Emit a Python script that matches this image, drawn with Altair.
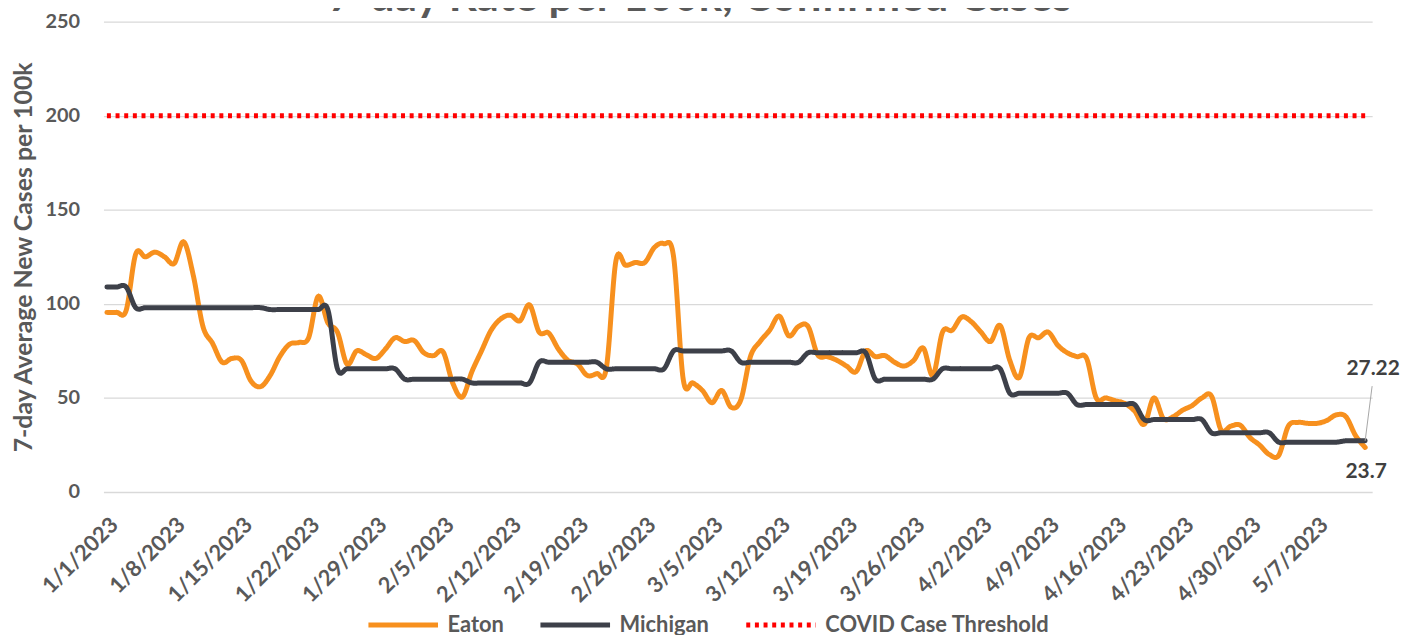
import altair as alt
import pandas as pd

# ---------------- data ----------------
DATES = [d.strftime("%-m/%-d/%Y") for d in pd.date_range("2023-01-01", "2023-05-12", freq="D")]

EATON = [
    95.5, 95.5, 96.5, 126.5, 125, 127.5, 125, 121.5, 133, 115,
    88, 79, 69, 71, 70, 59, 56, 62, 72, 78.5,
    79.5, 82, 104, 90, 85, 68, 75, 73, 71, 76,
    82, 80, 80.5, 74, 72.5, 74.5, 58, 50.5, 64, 75,
    86, 92, 94, 91, 99.5, 85, 84.5, 76, 70, 68,
    62, 63, 66, 123, 120.5, 122, 122, 130, 132, 125,
    60, 58, 54, 47.5, 54, 45, 49, 72, 80, 86,
    93.5, 83, 88, 88, 73, 72, 70, 67, 64, 75,
    72, 72.5, 69, 67, 70, 76.5, 62, 85, 86, 93,
    90.5, 85, 80, 88.5, 70, 61, 82, 82, 85, 78,
    74, 72, 71, 50, 50, 48.5, 47, 43, 36, 50,
    39, 40, 43.5, 46, 50, 51, 33, 35, 35.5, 29,
    25, 20, 19.5, 35, 37, 36.5, 36.5, 38, 41, 40,
    30, 23.7,
]

MICHIGAN = [
    109, 109, 109, 98, 98, 98, 98, 98, 98, 98,
    98, 98, 98, 98, 98, 98, 98, 97, 97, 97,
    97, 97, 97, 97, 65.5, 65.5, 65.5, 65.5, 65.5, 65.5,
    65.5, 60, 60, 60, 60, 60, 60, 60, 58, 58,
    58, 58, 58, 58, 58, 69, 69, 69, 69, 69,
    69, 69, 65.5, 65.5, 65.5, 65.5, 65.5, 65.5, 65.5, 75,
    75, 75, 75, 75, 75, 75, 69, 69, 69, 69,
    69, 69, 69, 74, 74, 74, 74, 74, 74, 74,
    60, 60, 60, 60, 60, 60, 60, 65.5, 65.5, 65.5,
    65.5, 65.5, 65.5, 65.5, 52.5, 52.5, 52.5, 52.5, 52.5, 52.5,
    52.5, 46.5, 46.5, 46.5, 46.5, 46.5, 46.5, 46.5, 38.5, 38.5,
    38.5, 38.5, 38.5, 38.5, 38.5, 31.5, 31.5, 31.5, 31.5, 31.5,
    31.5, 31.5, 26.5, 26.5, 26.5, 26.5, 26.5, 26.5, 26.5, 27.22,
    27.22, 27.22,
]

THRESHOLD = 200

TICK_LABELS = [
    "1/1/2023", "1/8/2023", "1/15/2023", "1/22/2023", "1/29/2023", "2/5/2023",
    "2/12/2023", "2/19/2023", "2/26/2023", "3/5/2023", "3/12/2023", "3/19/2023",
    "3/26/2023", "4/2/2023", "4/9/2023", "4/16/2023", "4/23/2023", "4/30/2023",
    "5/7/2023",
]

SERIES = ["Eaton", "Michigan", "COVID Case Threshold"]
COLORS = ["#F7901E", "#3D4049", "#FF0000"]
TITLE = "7-day Rate per 100k, Confirmed Cases"

# ---------------- tables ----------------
rows = []
for i, d in enumerate(DATES):
    rows.append({"day": i, "date": d, "series": "Eaton", "value": EATON[i]})
    rows.append({"day": i, "date": d, "series": "Michigan", "value": MICHIGAN[i]})
    rows.append({"day": i, "date": d, "series": "COVID Case Threshold", "value": THRESHOLD})
df = pd.DataFrame(rows)

last = len(DATES) - 1
labels_df = pd.DataFrame([
    {"day": last, "value": MICHIGAN[-1], "label": str(MICHIGAN[-1]), "series": "Michigan"},
    {"day": last, "value": EATON[-1], "label": str(EATON[-1]), "series": "Eaton"},
])

FONT = "Lato"
GREY = "#595959"

label_expr = "[" + ",".join("'" + t + "'" for t in TICK_LABELS) + "][round(datum.value / 7)]"

x_enc = alt.X(
    "day:Q",
    scale=alt.Scale(domain=[-0.36, 131.73], nice=False, zero=False),
    axis=alt.Axis(
        values=[7 * k for k in range(len(TICK_LABELS))],
        labelExpr=label_expr,
        labelAngle=-45,
        labelAlign="right",
        labelBaseline="top",
        labelPadding=22,
        labelFont=FONT,
        labelFontSize=22,
        labelFontWeight="bold",
        labelColor=GREY,
        labelOverlap=False,
        domain=False,
        ticks=False,
        grid=False,
        title=None,
    ),
)

y_enc = alt.Y(
    "value:Q",
    scale=alt.Scale(domain=[0, 250], nice=False),
    axis=alt.Axis(
        values=[0, 50, 100, 150, 200, 250],
        labelFont=FONT,
        labelFontSize=20,
        labelFontWeight="bold",
        labelColor=GREY,
        labelPadding=24,
        domain=False,
        ticks=False,
        grid=True,
        gridColor="#D9D9D9",
        gridWidth=1.3,
        title="7-day Average New Cases per 100k",
        titleFont=FONT,
        titleFontSize=25,
        titleFontWeight="bold",
        titleColor=GREY,
        titlePadding=9,
    ),
)

color_enc = alt.Color(
    "series:N",
    scale=alt.Scale(domain=SERIES, range=COLORS),
    legend=alt.Legend(
        title=None,
        orient="none",
        legendX=264,
        legendY=569,
        direction="horizontal",
        symbolType="stroke",
        symbolSize=4900,
        labelFont=FONT,
        labelFontSize=22,
        labelFontWeight="bold",
        labelColor=GREY,
        labelOffset=7,
        labelLimit=400,
        columnPadding=26,
    ),
)
dash_enc = alt.StrokeDash(
    "series:N",
    scale=alt.Scale(domain=SERIES, range=[[1, 0], [1, 0], [4, 4.7]]),
)
width_enc = alt.StrokeWidth(
    "series:N",
    scale=alt.Scale(domain=SERIES, range=[5, 5, 4]),
)

base = alt.Chart(df)

threshold = base.transform_filter(alt.datum.series == "COVID Case Threshold").mark_line(
    strokeCap="butt"
).encode(x=x_enc, y=y_enc, color=color_enc, strokeDash=dash_enc, strokeWidth=width_enc)

eaton = base.transform_filter(alt.datum.series == "Eaton").mark_line(
    interpolate="cardinal", strokeJoin="round", strokeCap="round"
).encode(x=x_enc, y=y_enc, color=color_enc, strokeDash=dash_enc, strokeWidth=width_enc)

michigan = base.transform_filter(alt.datum.series == "Michigan").mark_line(
    interpolate="cardinal", strokeJoin="round", strokeCap="round"
).encode(x=x_enc, y=y_enc, color=color_enc, strokeDash=dash_enc, strokeWidth=width_enc)

lab = alt.Chart(labels_df)
leader = lab.transform_filter(alt.datum.series == "Michigan").mark_rule(
    color="#A6A6A6", strokeWidth=1, x2Offset=7, y2Offset=-55
).encode(x="day:Q", y="value:Q", x2="day:Q", y2="value:Q")

mich_label = lab.transform_filter(alt.datum.series == "Michigan").mark_text(
    font=FONT, fontSize=21, fontWeight="bold", color="#404040", dx=8, dy=-72
).encode(x="day:Q", y="value:Q", text="label:N")

eaton_label = lab.transform_filter(alt.datum.series == "Eaton").mark_text(
    font=FONT, fontSize=21, fontWeight="bold", color="#404040", dx=1, dy=25
).encode(x="day:Q", y="value:Q", text="label:N")

# chart title (partly above the visible page, as in the reference)
title_mark = alt.Chart(pd.DataFrame({"title": [TITLE]})).mark_text(
    font=FONT, fontSize=44, fontWeight="bold", color=GREY,
    align="center", baseline="alphabetic",
).encode(text="title:N", x=alt.value(600), y=alt.value(-11))

chart = alt.layer(threshold, eaton, michigan, leader, mich_label, eaton_label, title_mark).properties(
    width=1276,
    height=473,
    autosize=alt.AutoSizeParams(type="none"),
    padding={"left": 96, "top": 12, "right": 29, "bottom": 142},
).configure(background="white").configure_view(stroke=None)

chart.save("out.html", embed_options={"renderer": "svg", "actions": False})
